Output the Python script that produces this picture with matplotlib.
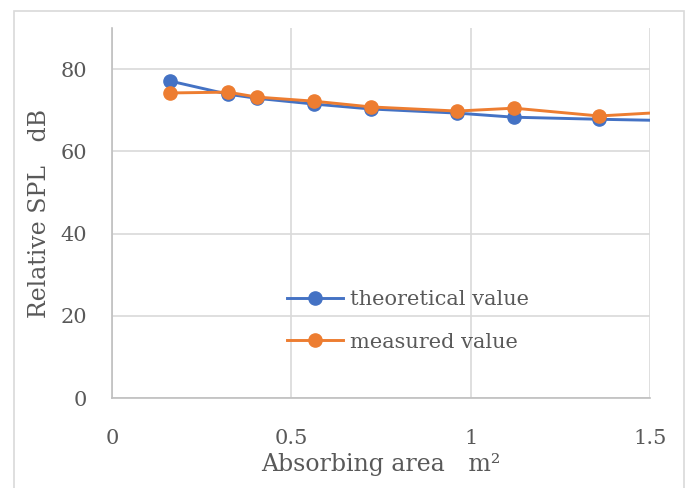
import matplotlib
matplotlib.use("Agg")
import matplotlib.pyplot as plt
from matplotlib.patches import Rectangle

# Absorbing area (m^2) and relative sound pressure level (dB)
area = [0.162, 0.323, 0.404, 0.563, 0.722, 0.962, 1.121, 1.358, 1.600]
theoretical = [77.1, 73.9, 72.9, 71.5, 70.3, 69.3, 68.3, 67.8, 67.4]
measured = [74.2, 74.4, 73.2, 72.2, 70.8, 69.8, 70.5, 68.6, 69.8]

x_ticks = [0, 0.5, 1, 1.5]
x_tick_labels = ["0", "0.5", "1", "1.5"]
y_ticks = [0, 20, 40, 60, 80]

text_gray = "#595959"
grid_gray = "#d9d9d9"
fonts = ["DejaVu Serif", "Noto Sans CJK JP"]
plt.rcParams["font.family"] = fonts

fig = plt.figure(figsize=(6.86, 4.88), dpi=100, facecolor="white")
ax = fig.add_axes([112 / 686, 1 - 398 / 488, 538 / 686, 370 / 488])

# chart border
fig.patches.append(Rectangle((14 / 686, -0.05), 670 / 686, 1.05 - 11 / 488,
                             transform=fig.transFigure, fill=False,
                             edgecolor=grid_gray, linewidth=1.2))

ax.plot(area, theoretical, color="#4472c4", lw=2.1, marker="o", ms=9.5,
        label="theoretical value", zorder=3)
ax.plot(area, measured, color="#ed7d31", lw=2.1, marker="o", ms=9.5,
        label="measured value", zorder=4)

ax.set_xlim(0, 1.5)
ax.set_ylim(0, 90)
ax.set_xticks(x_ticks)
ax.set_xticklabels(x_tick_labels)
ax.set_yticks(y_ticks)
ax.grid(True, color=grid_gray, lw=1.2, zorder=0)
ax.set_axisbelow(True)

for side in ["top", "right"]:
    ax.spines[side].set_visible(False)
for side in ["left", "bottom"]:
    ax.spines[side].set_color("#bfbfbf")
    ax.spines[side].set_linewidth(1.2)

ax.tick_params(axis="both", length=0, labelsize=15, labelcolor=text_gray)
ax.tick_params(axis="x", pad=22)
ax.tick_params(axis="y", pad=18)

ax.set_xlabel("Absorbing area\u3000m²", fontsize=17, color=text_gray, labelpad=4)
ax.set_ylabel("Relative SPL\u3000dB", fontsize=17, color=text_gray, labelpad=7)

leg = ax.legend(loc="upper left", bbox_to_anchor=(0.325, 0.292), frameon=False,
                fontsize=15, handlelength=2.7, handletextpad=0.35,
                labelspacing=1.14, borderpad=0, borderaxespad=0)
for t in leg.get_texts():
    t.set_color(text_gray)

fig.savefig("out.png", dpi=100)
